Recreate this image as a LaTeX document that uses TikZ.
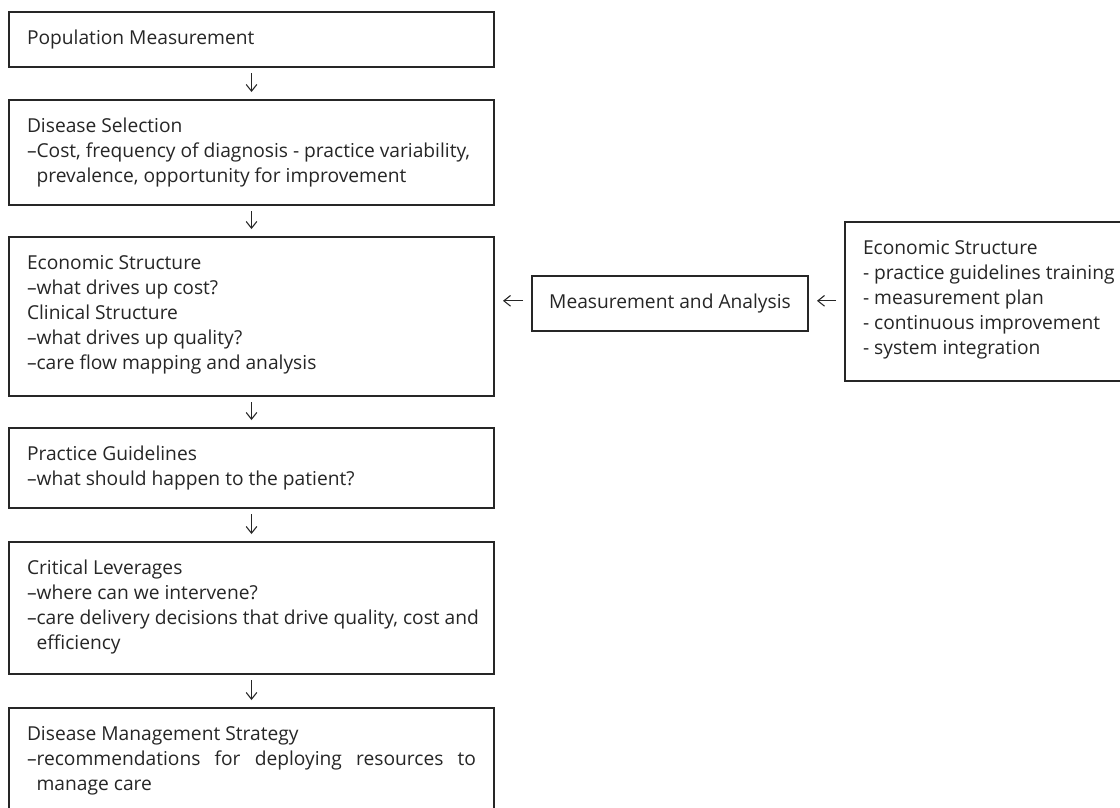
\documentclass[tikz,border=0pt]{standalone}
\usepackage{fontspec}
\setmainfont{Open Sans}
\usetikzlibrary{arrows.meta}
\definecolor{ink}{HTML}{262626}
% one unit of the drawing grid
\newlength\pxu
\setlength\pxu{0.75pt}
% box contents: width and height in grid units, text set from the top
\newcommand{\card}[3]{\parbox[c][#2\pxu][t]{\dimexpr#1\pxu-27pt\relax}{\fontsize{14.4pt}{18.75pt}\selectfont\rule{0pt}{24pt}#3}}
% indent of a continued line, as wide as the leading dash
\newcommand{\hangin}{\phantom{–}}

\begin{document}
\begin{tikzpicture}[x=0.75pt, y=-0.75pt,
  box/.style={draw=ink, line width=1pt, text=ink, anchor=north west,
              inner xsep=13.5pt, inner ysep=0pt, outer sep=0pt},
  flow/.style={draw=ink, line width=0.8pt, -{Straight Barb[length=5pt,width=8pt]}},
  down/.style={flow, shorten <=4.5pt, shorten >=6pt},
  side/.style={flow, shorten <=6.75pt, shorten >=6.75pt},
]
\fill[white] (0,0) rectangle (1120,807);
\useasboundingbox (0,0) rectangle (1120,807);
\clip (0,0) rectangle (1120,807);

% main column
\node[box] (pop) at (9,12) {\card{485}{55}{\mbox{Population Measurement}}};
\node[box] (dis) at (9,100) {\card{485}{105}{%
  \mbox{Disease Selection}\\
  \mbox{–Cost, frequency of diagnosis - practice variability,}\\
  \mbox{\hangin prevalence, opportunity for improvement}}};
\node[box] (eco) at (9,237) {\card{485}{159}{%
  \mbox{Economic Structure}\\
  \mbox{–what drives up cost?}\\
  \mbox{Clinical Structure}\\
  \mbox{–what drives up quality?}\\
  \mbox{–care flow mapping and analysis}}};
\node[box] (pg) at (9,428) {\card{485}{80}{%
  \mbox{Practice Guidelines}\\
  \mbox{–what should happen to the patient?}}};
\node[box] (cl) at (9,542) {\card{485}{132}{%
  \mbox{Critical Leverages}\\
  \mbox{–where can we intervene?}\\
  \mbox{–care delivery decisions that drive quality, cost and}\\
  \mbox{\hangin efficiency}}};
\node[box] (dms) at (9,708) {\card{485}{130}{%
  \mbox{Disease Management Strategy}\\
  \makebox[\linewidth][s]{–recommendations for deploying resources to}\\
  \mbox{\hangin manage care}}};

% side branch
\node[box] (ma) at (532,276) {\card{276}{55}{\makebox[\linewidth][c]{Measurement and Analysis}}};
\node[box] (rb) at (845,222) {\card{300}{159}{%
  \mbox{Economic Structure}\\
  \mbox{- practice guidelines training}\\
  \mbox{- measurement plan}\\
  \mbox{- continuous improvement}\\
  \mbox{- system integration}}};

% connectors
\draw[down] (pop) -- (dis);
\draw[down] (dis) -- (eco);
\draw[down] (eco) -- (pg);
\draw[down] (pg) -- (cl);
\draw[down] (cl) -- (dms);

\coordinate (maL) at ([yshift=2pt]ma.west);
\coordinate (maR) at ([yshift=2pt]ma.east);
\coordinate (ecoR) at (maL -| eco.east);
\coordinate (rbL) at (maR -| rb.west);
\draw[side] (maL) -- (ecoR);
\draw[side] (rbL) -- (maR);
\end{tikzpicture}
\end{document}
